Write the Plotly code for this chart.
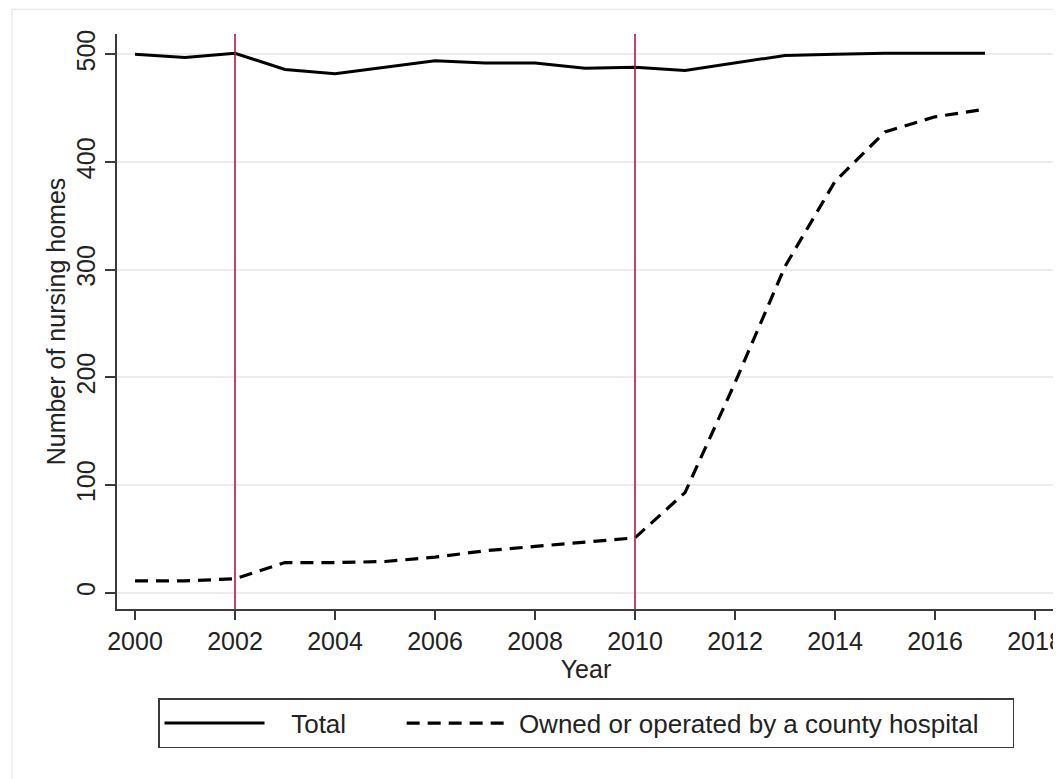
import plotly.graph_objects as go

years = list(range(2000, 2018))
total = [500, 497, 501, 486, 482, 488, 494, 492, 492, 487, 488, 485, 492, 499, 500, 501, 501, 501]
county = [11, 11, 13, 28, 28, 29, 33, 39, 43, 47, 51, 93, 195, 303, 382, 428, 442, 449]
policy_years = [2002, 2010]
x_ticks = list(range(2000, 2019, 2))
y_ticks = [0, 100, 200, 300, 400, 500]
series_names = ["Total", "Owned or operated by a county hospital"]

FONT = "Arial, Liberation Sans, sans-serif"
AX = "#3a3a3a"
NB = "\u00a0"

fig = go.Figure()
fig.add_trace(go.Scatter(x=years, y=total, mode="lines",
                         name=NB * 3 + series_names[0] + NB * 7,
                         line=dict(color="black", width=3)))
fig.add_trace(go.Scatter(x=years, y=county, mode="lines",
                         name=NB * 1 + series_names[1] + NB * 4,
                         line=dict(color="black", width=3.2, dash="13px,8px")))

for yr in policy_years:
    fig.add_shape(type="line", xref="x", yref="paper", x0=yr, x1=yr, y0=0, y1=1,
                  line=dict(color="#B3164A", width=1.6), layer="above")

# faint outer frame
fig.add_shape(type="rect", xref="paper", yref="paper",
              x0=-0.112, x1=1.2, y0=-0.5, y1=1.043,
              line=dict(color="#e8e8e8", width=1.2), layer="below")

fig.update_layout(
    width=1053, height=771,
    margin=dict(l=109, r=6, t=26, b=170, autoexpand=False),
    paper_bgcolor="white", plot_bgcolor="white",
    font=dict(family=FONT, size=25, color="#222"),
    showlegend=True,
    legend=dict(orientation="h", x=0.5, xanchor="center", y=-0.155, yanchor="top",
                bordercolor=AX, borderwidth=1.5, font=dict(size=26, color="#222"),
                itemwidth=100, bgcolor="white"),
    xaxis=dict(range=[1999.64, 2018.4], tickmode="array", tickvals=x_ticks,
               ticks="outside", ticklen=9, tickwidth=1.5, tickcolor=AX,
               showline=True, linecolor=AX, linewidth=1.5, showgrid=False,
               zeroline=False, tickfont=dict(size=25), automargin=False,
               ticklabeloverflow="allow",
               title=dict(text="Year", standoff=0, font=dict(size=25))),
    yaxis=dict(range=[-15.1, 518.9], tickmode="array", tickvals=y_ticks,
               ticks="outside", ticklen=10, tickwidth=1.5, tickcolor=AX,
               showline=True, linecolor=AX, linewidth=1.5,
               showgrid=True, gridcolor="#ececec", gridwidth=1.5,
               zeroline=False, tickangle=-90, tickfont=dict(size=25), automargin=False,
               title=dict(text="Number of nursing homes", standoff=0, font=dict(size=25))),
)

fig.write_html("out.html")
